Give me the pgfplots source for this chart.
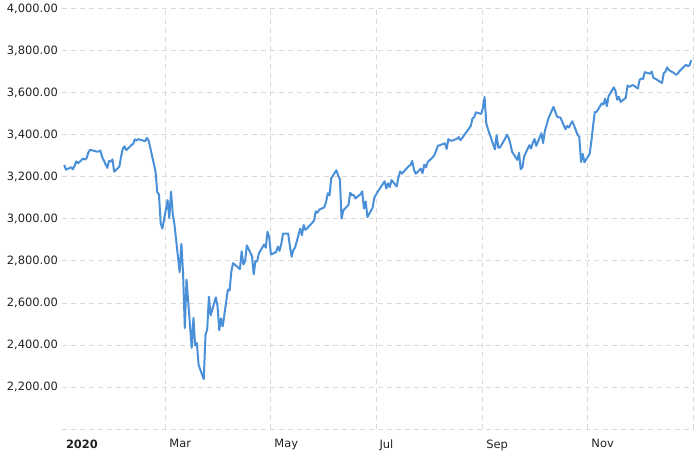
\documentclass[border=0pt]{standalone}
\usepackage{pgfplots}
\pgfplotsset{compat=1.18}
\usepackage{pgfplotstable}
\usepackage{fontspec}
\setmainfont{DejaVu Sans}
\definecolor{linecol}{HTML}{4A90D9}
\definecolor{gridcol}{HTML}{D9D9D9}
\definecolor{txtcol}{HTML}{222222}
\pgfplotstableread{
x y
1 3257.85
2 3234.85
5 3246.28
6 3237.18
7 3253.05
8 3274.70
9 3265.35
12 3288.13
13 3283.15
14 3289.29
15 3316.81
16 3329.62
20 3320.79
21 3321.75
22 3325.54
23 3295.47
26 3243.63
27 3276.24
28 3273.40
29 3283.66
30 3225.52
33 3248.92
34 3297.59
35 3334.69
36 3345.78
37 3327.71
40 3352.09
41 3357.75
42 3379.45
43 3373.94
44 3380.16
48 3370.29
49 3386.15
50 3373.23
51 3337.75
54 3225.89
55 3128.21
56 3116.39
57 2978.76
58 2954.22
61 3090.23
62 3003.37
63 3130.12
64 3023.94
65 2972.37
68 2746.56
69 2882.23
70 2741.38
71 2480.64
72 2711.02
75 2386.13
76 2529.19
77 2398.10
78 2409.39
79 2304.92
82 2237.40
83 2447.33
84 2475.56
85 2630.07
86 2541.47
89 2626.65
90 2584.59
91 2470.50
92 2526.90
93 2488.65
96 2663.68
97 2659.41
98 2749.98
99 2789.82
103 2761.63
104 2846.06
105 2783.36
106 2799.55
107 2874.56
110 2823.16
111 2736.56
112 2799.31
113 2797.80
114 2836.74
117 2878.48
118 2863.39
119 2939.51
120 2912.43
121 2830.71
124 2842.74
125 2868.44
126 2848.42
127 2881.19
128 2929.80
131 2930.32
132 2870.12
133 2820.00
134 2852.50
135 2863.70
138 2953.91
139 2922.94
140 2971.61
141 2948.51
142 2955.45
146 2991.77
147 3036.13
148 3029.73
149 3044.31
152 3055.73
153 3080.82
154 3122.87
155 3112.35
156 3193.93
159 3232.39
160 3207.18
161 3190.14
162 3002.10
163 3041.31
166 3066.59
167 3124.74
168 3113.49
169 3115.34
170 3097.74
173 3117.86
174 3131.29
175 3050.33
176 3083.76
177 3009.05
180 3053.24
181 3100.29
182 3115.86
183 3130.01
187 3179.72
188 3145.32
189 3169.94
190 3152.05
191 3185.04
194 3155.22
195 3197.52
196 3226.56
197 3215.57
198 3224.73
201 3251.84
202 3257.30
203 3276.02
204 3235.66
205 3215.63
208 3239.41
209 3218.44
210 3258.44
211 3246.22
212 3271.12
215 3294.61
216 3306.51
217 3327.77
218 3349.16
219 3351.28
222 3360.47
223 3333.69
224 3380.35
225 3373.43
226 3372.85
229 3381.99
230 3389.78
231 3374.85
232 3385.51
233 3397.16
236 3431.28
237 3443.62
238 3478.73
239 3484.55
240 3508.01
243 3500.31
244 3526.65
245 3580.84
246 3455.06
247 3426.96
251 3331.84
252 3398.96
253 3339.19
254 3340.97
257 3383.54
258 3401.20
259 3385.49
260 3357.01
261 3319.47
264 3281.06
265 3315.57
266 3236.92
267 3246.59
268 3298.46
271 3351.60
272 3335.47
273 3363.00
274 3380.80
275 3348.42
278 3408.60
279 3360.97
280 3419.44
281 3446.83
282 3477.14
285 3534.22
286 3511.93
287 3488.67
288 3483.34
289 3483.81
292 3426.92
293 3443.12
294 3435.56
295 3453.49
296 3465.39
299 3400.97
300 3390.68
301 3271.03
302 3310.11
303 3269.96
306 3310.24
307 3369.16
308 3443.44
309 3510.45
310 3509.44
313 3550.50
314 3545.53
315 3572.66
316 3537.01
317 3585.15
320 3626.91
321 3609.53
322 3567.79
323 3581.87
324 3557.54
327 3577.59
328 3635.41
329 3629.65
331 3638.35
334 3621.63
335 3662.45
336 3669.01
337 3666.72
338 3699.12
341 3691.96
342 3702.25
343 3672.82
344 3668.10
345 3663.46
348 3647.49
349 3694.62
350 3701.17
351 3722.48
352 3709.41
355 3694.92
356 3687.26
357 3690.01
358 3703.06
362 3735.36
363 3727.04
364 3732.04
365 3756.07
}\spx
\begin{document}
\begin{tikzpicture}
\begin{axis}[
  scale only axis,
  width=630.5bp, height=420bp,
  xmin=0, xmax=366,
  ymin=2000, ymax=4000,
  axis line style={draw=none},
  major tick length=0pt,
  xtick={60,121,182,244,305,366},
  xticklabels={Mar,May,Jul,Sep,Nov,{}},
  extra x ticks={0},
  extra x tick labels={\textbf{2020}},
  extra x tick style={grid=none},
  ytick={2000,2200,...,4000},
  yticklabel={\ifdim\tick pt<2100pt\else\pgfmathprintnumber{\tick}\fi},
  /pgf/number format/.cd, fixed, fixed zerofill, precision=2, 1000 sep={,}, assume math mode=true,
  /pgfplots/.cd,
  grid=major,
  major grid style={gridcol, line width=1bp, dash pattern=on 5bp off 4bp},
  tick label style={font=\fontsize{11.5}{13}\selectfont, text=txtcol},
  xticklabel style={anchor=north west, xshift=0bp, yshift=-7bp},
  yticklabel style={xshift=-1bp},
  clip=false,
]
\addplot[linecol, line width=2bp, line join=round] table[x=x,y=y] {\spx};
\end{axis}
\path[use as bounding box] (-62.5bp,-24bp) rectangle (637.5bp,429bp);
\end{tikzpicture}
\end{document}
